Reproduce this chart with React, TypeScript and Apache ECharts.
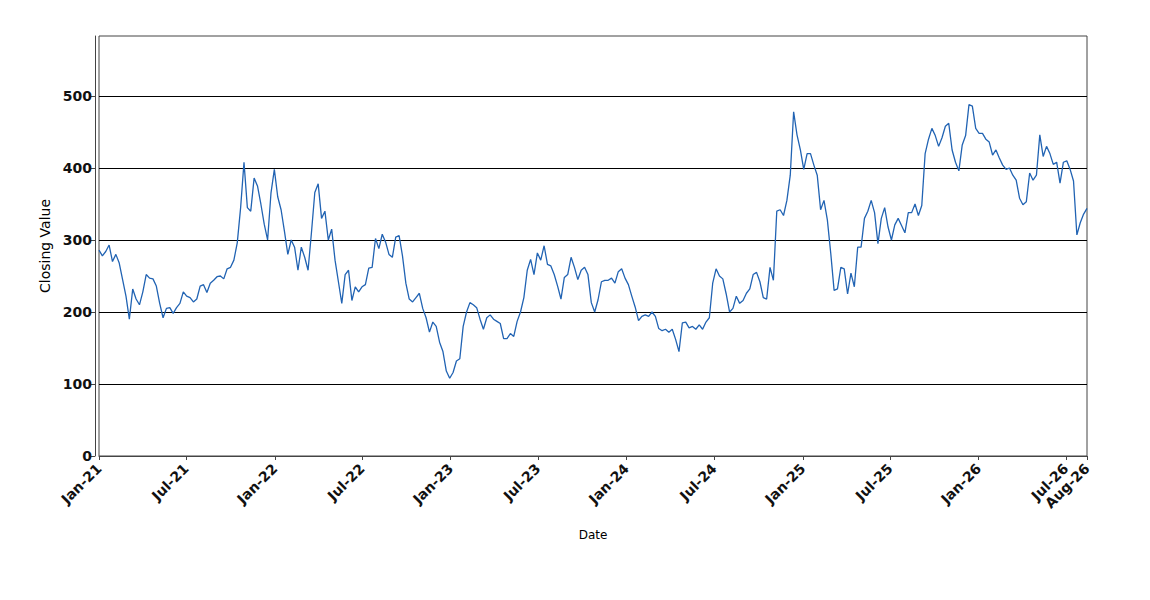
import React, { useEffect, useRef } from "react";
import * as echarts from "echarts";

// Weekly closing values (one value every 7 days from START_DATE)
const START_DATE = "2021-01-01";
const STEP_DAYS = 7;

const closes2021 = [
  286, 278, 284, 293, 270, 280, 268, 245, 222, 190,
  232, 218, 210, 228, 252, 247, 246, 236, 212, 192,
  205, 206, 198, 206, 212, 228, 222, 220, 214, 218,
  236, 238, 227, 240, 244, 249, 250, 246, 260, 262,
  272, 296, 345, 408, 345, 340, 386, 375, 350, 322,
  300, 365, 398,
];
const closes2022 = [
  360, 342, 312, 280, 300, 290, 258, 290, 276, 258,
  310, 366, 378, 330, 340, 300, 315, 272, 242, 212,
  252, 258, 216, 235, 228, 235, 238, 261, 262, 302,
  288, 308, 297, 280, 276, 304, 306, 278, 240, 218,
  214, 220, 226, 205, 192, 172, 186, 180, 158, 145,
  118, 108,
];
const closes2023 = [
  116, 132, 135, 180, 200, 213, 210, 206, 190, 176,
  192, 196, 190, 187, 184, 163, 163, 170, 166, 187,
  200, 220, 258, 273, 252, 282, 272, 292, 266, 264,
  252, 236, 218, 248, 252, 276, 262, 245, 258, 262,
  252, 213, 200, 217, 242, 244, 244, 247, 240, 256,
  260, 247,
];
const closes2024 = [
  238, 222, 207, 188, 194, 196, 194, 200, 194, 177,
  174, 176, 172, 176, 162, 145, 185, 186, 178, 180,
  176, 182, 176, 186, 192, 240, 260, 250, 246, 225,
  200, 205, 222, 212, 216, 226, 232, 252, 255, 242,
  220, 218, 262, 244, 340, 342, 334, 355, 390, 478,
  446, 425,
];
const closes2025 = [
  398, 420, 420, 404, 390, 342, 355, 328, 282, 230,
  232, 262, 260, 225, 254, 235, 290, 290, 330, 340,
  355, 338, 295, 330, 345, 318, 300, 321, 330, 320,
  310, 338, 338, 350, 334, 348, 420, 440, 455, 445,
  430, 442, 458, 462, 425, 408, 396, 432, 445, 488,
  486, 455,
];
const closes2026 = [
  448, 448, 440, 436, 418, 425, 414, 404, 398, 400,
  390, 383, 358, 349, 353, 393, 383, 390, 446, 416,
  430, 420, 405, 408, 379, 408, 410, 398, 382, 307,
  324, 336, 344,
];

const xTickDates = [
  "2021-01-01", "2021-07-01", "2022-01-01", "2022-07-01", "2023-01-01",
  "2023-07-01", "2024-01-01", "2024-07-01", "2025-01-01", "2025-07-01",
  "2026-01-01", "2026-07-01", "2026-08-14",
];
const yTicks = [0, 100, 200, 300, 400, 500];
const Y_MAX = 583.3;

const MONTHS = ["Jan", "Feb", "Mar", "Apr", "May", "Jun", "Jul", "Aug", "Sep", "Oct", "Nov", "Dec"];
const DAY_MS = 86400000;
const toTs = (s: string) => Date.parse(s + "T00:00:00Z");

const allCloses = [
  ...closes2021, ...closes2022, ...closes2023, ...closes2024, ...closes2025, ...closes2026,
];
const startTs = toTs(START_DATE);
const seriesData = allCloses.map((v, i) => [startTs + i * STEP_DAYS * DAY_MS, v]);
const xTicks = xTickDates.map(toTs);

const fmtDate = (val: number) => {
  const d = new Date(val);
  return MONTHS[d.getUTCMonth()] + "-" + String(d.getUTCFullYear()).slice(2);
};

const FONT = "DejaVu Sans";

export default function App() {
  const ref = useRef<HTMLDivElement>(null);
  useEffect(() => {
    if (!ref.current) return;
    const chart = echarts.init(ref.current, null, { renderer: "svg" });
    chart.setOption({
      animation: false,
      backgroundColor: "#ffffff",
      grid: {
        left: 99,
        right: 63,
        top: 36,
        bottom: 144,
        containLabel: false,
        outerBoundsMode: "none",
        show: true,
        borderColor: "#444444",
        borderWidth: 1,
        backgroundColor: "transparent",
      },
      xAxis: {
        type: "value",
        min: startTs,
        max: xTicks[xTicks.length - 1],
        offset: 5,
        name: "Date",
        nameLocation: "middle",
        nameGap: 68,
        nameTextStyle: { fontFamily: FONT, fontSize: 12, color: "#000" },
        axisLine: { show: true, lineStyle: { color: "#444444", width: 1 } },
        axisTick: { show: true, length: 4, customValues: xTicks, lineStyle: { color: "#444444" } },
        axisLabel: {
          customValues: xTicks,
          rotate: 45,
          margin: 5,
          fontFamily: FONT,
          fontSize: 14,
          fontWeight: "bold",
          color: "#111",
          formatter: (v: number) => fmtDate(v),
        },
        splitLine: { show: false },
      },
      yAxis: {
        type: "value",
        min: 0,
        max: Y_MAX,
        interval: 100,
        offset: 4,
        name: "Closing Value",
        nameLocation: "middle",
        nameGap: 42,
        nameTextStyle: { fontFamily: FONT, fontSize: 14, color: "#000" },
        axisLine: { show: true, lineStyle: { color: "#444444", width: 1 } },
        axisTick: { show: true, length: 4, customValues: yTicks, lineStyle: { color: "#444444" } },
        axisLabel: {
          customValues: yTicks,
          margin: 3,
          fontFamily: FONT,
          fontSize: 14,
          fontWeight: "bold",
          color: "#111",
        },
        splitLine: { show: true, lineStyle: { color: "#000000", width: 1 } },
      },
      series: [
        {
          type: "line",
          data: seriesData,
          showSymbol: false,
          symbol: "none",
          lineStyle: { color: "#2163b3", width: 1.3 },
          itemStyle: { color: "#2163b3" },
        },
      ],
    });
    return () => chart.dispose();
  }, []);
  return (
    <div
      ref={ref}
      style={{ position: "fixed", left: 0, top: 0, width: 1150, height: 600, background: "#fff" }}
    />
  );
}
